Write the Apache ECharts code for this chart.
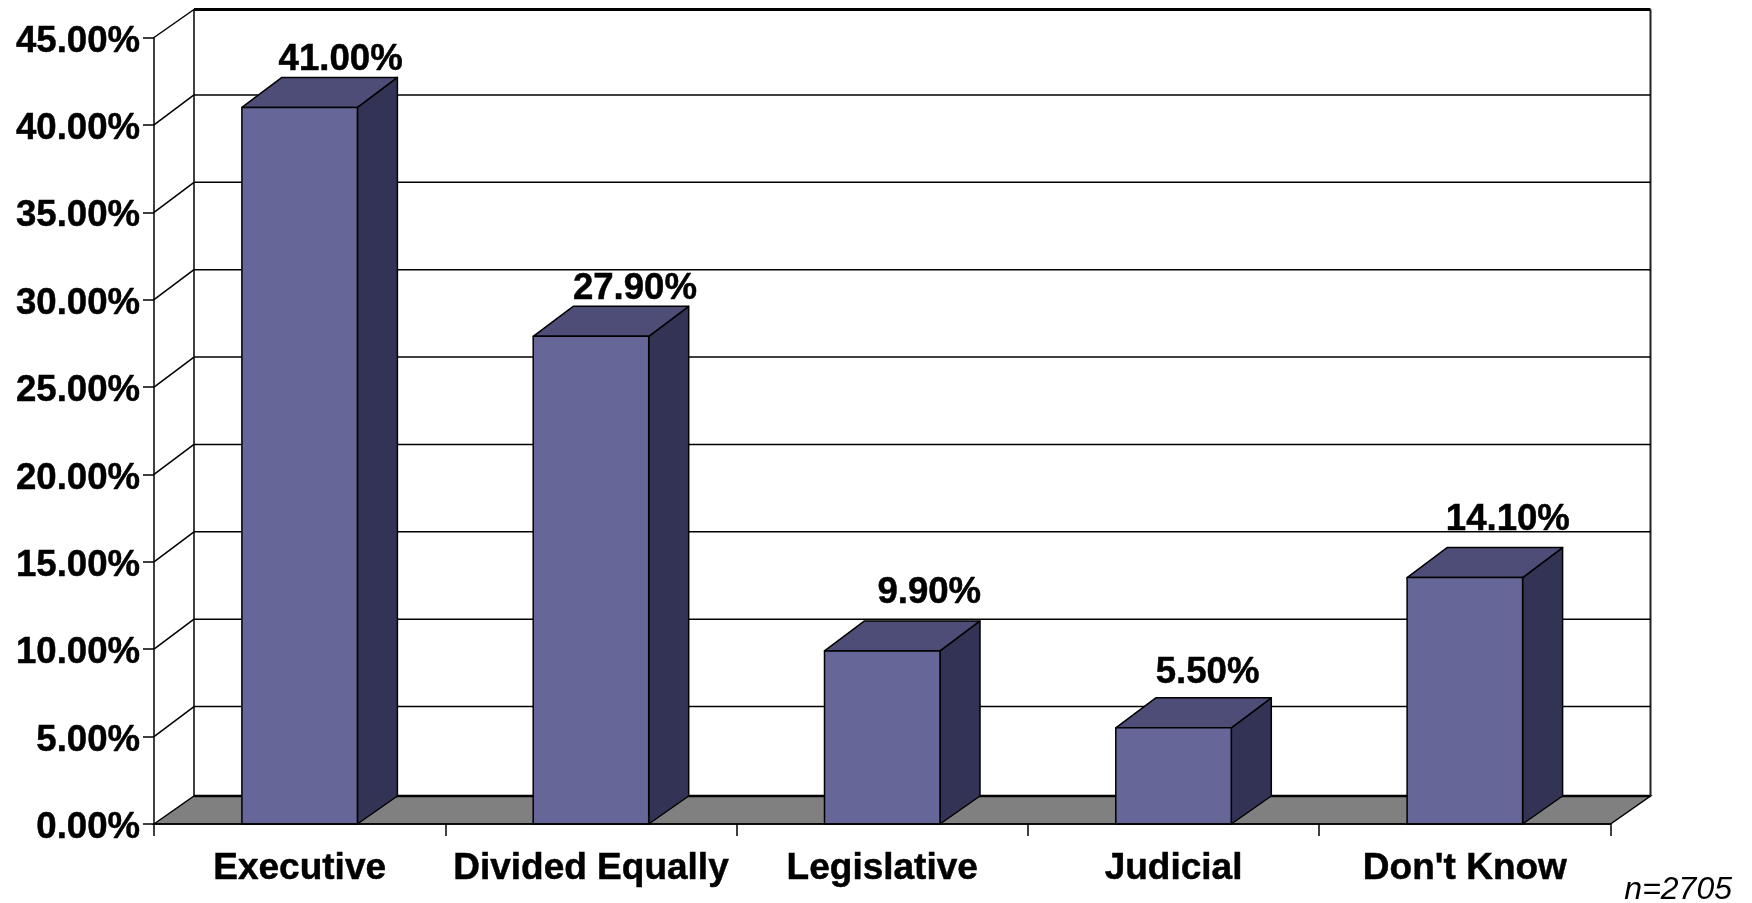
<!DOCTYPE html>
<html>
<head>
<meta charset="utf-8">
<title>Chart</title>
<style>
    html, body { margin: 0; padding: 0; background: #fff; }
    #main { width: 1752px; height: 903px; }
</style>
<script src="https://cdn.jsdelivr.net/npm/echarts@6/dist/echarts.min.js"></script>
</head>
<body>
<div id="main"></div>
<script>
    const categories = ['Executive', 'Divided Equally', 'Legislative', 'Judicial', "Don't Know"];
    const shares = [41.0, 27.9, 9.9, 5.5, 14.1];
    const yTicks = [0, 5, 10, 15, 20, 25, 30, 35, 40, 45];
    const sampleNote = 'n=2705';

    const FONT = '"Liberation Sans", Arial, sans-serif';
    const FONT_SIZE = 36.6;
    // depth of the fake 3d box
    const WALL_DX = 40, WALL_DY = -28, GRID_DY = -30;
    const BAR_DX = 40, BAR_DY = -30;
    const BAR_W = 115.5;
    // the value labels don't sit evenly above the bars in the original
    const labelNudgeX = [41, 44, 47, 34, 43];
    const labelNudgeY = [-48, -47, -58, -55, -58];
    const lineStyle = {stroke: '#000', lineWidth: 1.5};

    const chart = echarts.init(document.getElementById('main'));

    chart.setOption({
        animation: false,
        backgroundColor: '#fff',
        grid: {left: 154, top: 37.5, width: 1456.5, height: 786.5},
        xAxis: {
            type: 'category',
            data: categories,
            z: 4,
            axisLine: {lineStyle: {color: '#000', width: 1.5}},
            axisTick: {show: true, length: 12, lineStyle: {color: '#000', width: 1.5}},
            axisLabel: {
                color: '#000', fontFamily: FONT, fontWeight: 'bold', fontSize: 37, margin: 26, interval: 0,
                textBorderColor: '#000', textBorderWidth: 0.5
            }
        },
        yAxis: {
            type: 'value',
            min: 0,
            max: 45,
            interval: 5,
            z: 4,
            axisLine: {show: true, lineStyle: {color: '#000', width: 1.5}},
            axisTick: {show: true, length: 11, lineStyle: {color: '#000', width: 1.5}},
            splitLine: {show: false},
            axisLabel: {
                color: '#000', fontFamily: FONT, fontWeight: 'bold', fontSize: FONT_SIZE, margin: 14,
                verticalAlign: 'top',
                lineHeight: 8,
                textBorderColor: '#000', textBorderWidth: 0.5,
                formatter: v => v.toFixed(2) + '%'
            }
        },
        graphic: [{
            type: 'text',
            right: 20,
            bottom: -3,
            style: {text: sampleNote, font: 'italic 32px ' + FONT, fill: '#000'}
        }],
        series: [
            {
                // back wall and floor
                type: 'custom',
                z: 1,
                silent: true,
                data: [[0, 0]],
                renderItem(params) {
                    const c = params.coordSys;
                    const left = c.x, right = c.x + c.width, top = c.y, bottom = c.y + c.height;
                    return {
                        type: 'group',
                        children: [
                            {
                                type: 'polygon',
                                shape: {points: [[left, bottom], [left + WALL_DX, bottom + WALL_DY], [right + WALL_DX, bottom + WALL_DY], [right, bottom]]},
                                style: {fill: '#808080', stroke: '#000', lineWidth: 1.5}
                            },
                            {type: 'line', shape: {x1: left + WALL_DX, y1: bottom + WALL_DY, x2: right + WALL_DX, y2: bottom + WALL_DY}, style: {stroke: '#000', lineWidth: 2.5}},
                            {type: 'line', shape: {x1: left, y1: top, x2: left + WALL_DX, y2: top + WALL_DY}, style: lineStyle},
                            {type: 'line', shape: {x1: left + WALL_DX, y1: top + WALL_DY, x2: left + WALL_DX, y2: bottom + WALL_DY}, style: lineStyle},
                            {type: 'line', shape: {x1: right + WALL_DX, y1: top + WALL_DY, x2: right + WALL_DX, y2: bottom + WALL_DY}, style: {stroke: '#222', lineWidth: 2}},
                            {type: 'line', shape: {x1: left + WALL_DX, y1: top + WALL_DY, x2: right + WALL_DX, y2: top + WALL_DY}, style: {stroke: '#000', lineWidth: 3}}
                        ]
                    };
                }
            },
            {
                // gridlines pushed back on the wall, with the little diagonals to the axis
                type: 'custom',
                z: 2,
                silent: true,
                data: yTicks.filter(v => v > 0 && v < 45).map(v => [0, v]),
                renderItem(params, api) {
                    const c = params.coordSys;
                    const y = api.coord([0, api.value(1)])[1];
                    return {
                        type: 'group',
                        children: [
                            {type: 'line', shape: {x1: c.x, y1: y, x2: c.x + WALL_DX, y2: y + GRID_DY}, style: lineStyle},
                            {type: 'line', shape: {x1: c.x + WALL_DX, y1: y + GRID_DY, x2: c.x + c.width + WALL_DX, y2: y + GRID_DY}, style: lineStyle}
                        ]
                    };
                }
            },
            {
                type: 'custom',
                z: 3,
                silent: true,
                data: shares.map((v, i) => [i, v]),
                renderItem(params, api) {
                    const top = api.coord([api.value(0), api.value(1)]);
                    const base = api.coord([api.value(0), 0]);
                    const x0 = top[0] - BAR_W / 2, x1 = top[0] + BAR_W / 2;
                    const stroke = {stroke: '#000', lineWidth: 1.5, lineJoin: 'round'};
                    return {
                        type: 'group',
                        children: [
                            {
                                type: 'polygon',
                                shape: {points: [[x1, top[1]], [x1 + BAR_DX, top[1] + BAR_DY], [x1 + BAR_DX, base[1] + BAR_DY + 2], [x1, base[1]]]},
                                style: Object.assign({fill: '#333355'}, stroke)
                            },
                            {
                                type: 'polygon',
                                shape: {points: [[x0, top[1]], [x0 + BAR_DX, top[1] + BAR_DY], [x1 + BAR_DX, top[1] + BAR_DY], [x1, top[1]]]},
                                style: Object.assign({fill: '#4d4d77'}, stroke)
                            },
                            {
                                type: 'polygon',
                                shape: {points: [[x0, top[1]], [x1, top[1]], [x1, base[1]], [x0, base[1]]]},
                                style: Object.assign({fill: '#666699'}, stroke)
                            },
                            {
                                type: 'text',
                                style: {
                                    text: api.value(1).toFixed(2) + '%',
                                    x: top[0] + labelNudgeX[params.dataIndex],
                                    y: top[1] + labelNudgeY[params.dataIndex],
                                    align: 'center',
                                    verticalAlign: 'middle',
                                    font: 'bold ' + FONT_SIZE + 'px ' + FONT,
                                    fill: '#000',
                                    stroke: '#000',
                                    lineWidth: 0.5
                                }
                            }
                        ]
                    };
                }
            }
        ]
    });

    window.addEventListener('resize', () => chart.resize());
</script>
</body>
</html>
